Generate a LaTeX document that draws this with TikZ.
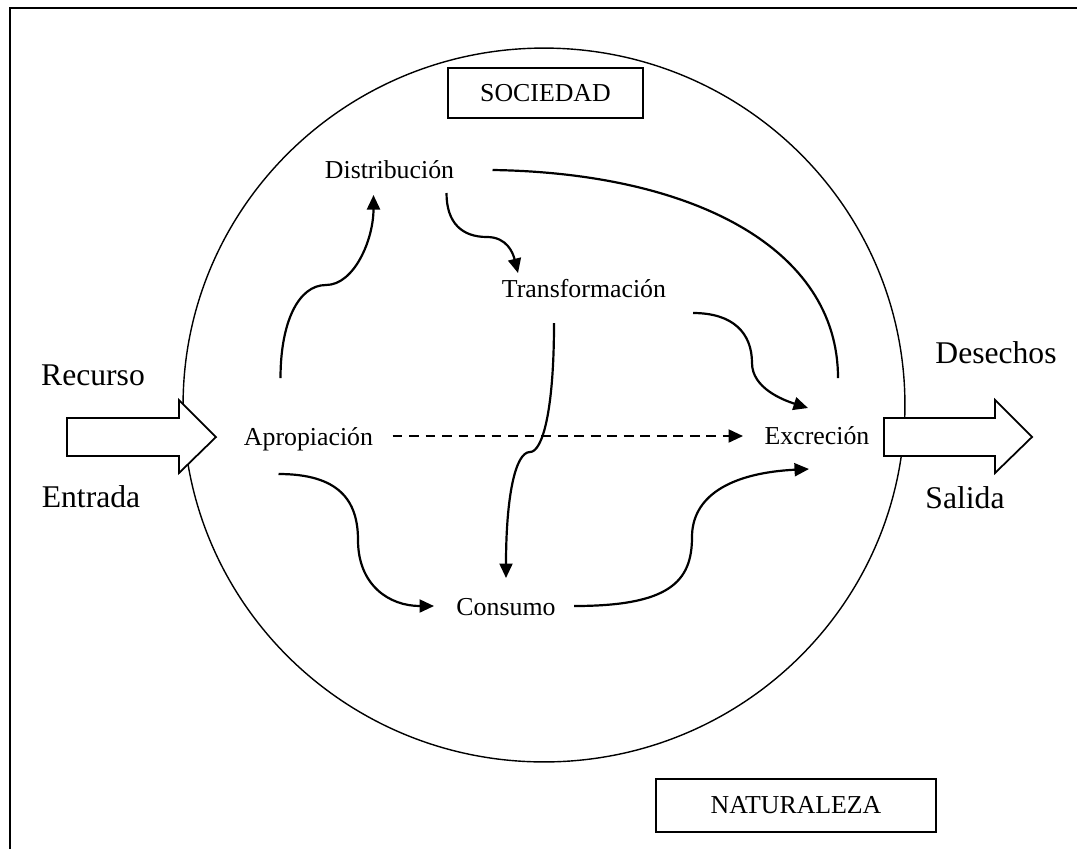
\documentclass[tikz,border=0pt]{standalone}
\usepackage{fontspec}
\setmainfont{Liberation Serif}
\usepackage{tikz}
\usetikzlibrary{arrows.meta}
\tikzstyle{lbl}=[font=\fontsize{14.7}{17}\selectfont, inner sep=0pt, anchor=base]
\tikzstyle{big}=[font=\fontsize{18}{21}\selectfont, inner sep=0pt, anchor=base]
\tikzstyle{box}=[draw, line width=1pt, font=\fontsize{14.7}{17}\selectfont]
\tikzstyle{link}=[line width=1.25pt]
\tikzstyle{flow}=[line width=1.25pt, -{Triangle[length=0.29cm,width=0.26cm]}]
\tikzstyle{blockarrow}=[draw, fill=white, line width=1pt]

\begin{document}
\begin{tikzpicture}[x=0.02cm, y=-0.02cm]
   \useasboundingbox (0,0) rectangle (1077,849);
   \draw[line width=1.5pt] (10,849) -- (10,8) -- (1077,8);
   \draw[line width=0.8pt] (544,405) ellipse (7.22cm and 7.14cm);

   \draw[blockarrow] (67,418) -- (179,418) -- (179,400) -- (216,437) -- (179,473) -- (179,456) -- (67,456) -- cycle;
   \draw[blockarrow] (884,418) -- (995,418) -- (995,400) -- (1032,437) -- (995,473) -- (995,456) -- (884,456) -- cycle;

   \draw (93,385) node[big] (rec) {Recurso};
   \draw (91,507) node[big] (ent) {Entrada};
   \draw (996,363) node[big] (des) {Desechos};
   \draw (965,508) node[big] (sal) {Salida};

   \draw (545.5,93) node[box, minimum width=3.9cm, minimum height=1cm] (soc) {SOCIEDAD};
   \draw (796,805.5) node[box, minimum width=5.6cm, minimum height=1.06cm] (nat) {NATURALEZA};

   \draw (308.5,445) node[lbl] (apro) {Apropiación};
   \draw (389.5,178) node[lbl] (dist) {Distribución};
   \draw (584,297) node[lbl] (tran) {Transformación};
   \draw (817,444) node[lbl] (excr) {Excreción};
   \draw (506,615) node[lbl] (cons) {Consumo};

   \draw[flow] ([shift={(-28,-67)}]apro.base) .. controls +(0,-55) and +(-28,0) .. (326,285)
      .. controls +(28,0) and +(0,45) .. ([shift={(-16,17)}]dist.base);
   \draw[flow] ([shift={(57,15)}]dist.base) .. controls +(0,30) and +(-25,0) .. (487,237)
      .. controls +(20,0) and +(-5,-20) .. ([shift={(-66,-24)}]tran.base);
   \draw[link] ([shift={(103,-8)}]dist.base) .. controls +(200,3) and +(0,-130) .. ([shift={(21,-66)}]excr.base);
   \draw[flow] ([shift={(109,16)}]tran.base) .. controls +(40,0) and +(0,-30) .. (752,363)
      .. controls +(0,25) and +(-25,-8) .. ([shift={(-9,-36)}]excr.base);
   \draw[flow] ([shift={(-30,26)}]tran.base) .. controls +(0,90) and +(12,0) .. (530,452)
      .. controls +(-15,0) and +(0,-80) .. ([shift={(0,-37)}]cons.base);
   \draw[flow, dash pattern=on 5.6pt off 3.8pt] ([shift={(84,-9)}]apro.base) -- ([shift={(-74,-8)}]excr.base);
   \draw[flow] ([shift={(-30,29)}]apro.base) .. controls +(60,0) and +(0,-40) .. (358,540)
      .. controls +(0,45) and +(-45,0) .. ([shift={(-72,-9)}]cons.base);
   \draw[flow] ([shift={(68,-9)}]cons.base) .. controls +(95,0) and +(0,45) .. (692,537)
      .. controls +(0,-40) and +(-80,4) .. ([shift={(-8,25)}]excr.base);
\end{tikzpicture}
\end{document}
